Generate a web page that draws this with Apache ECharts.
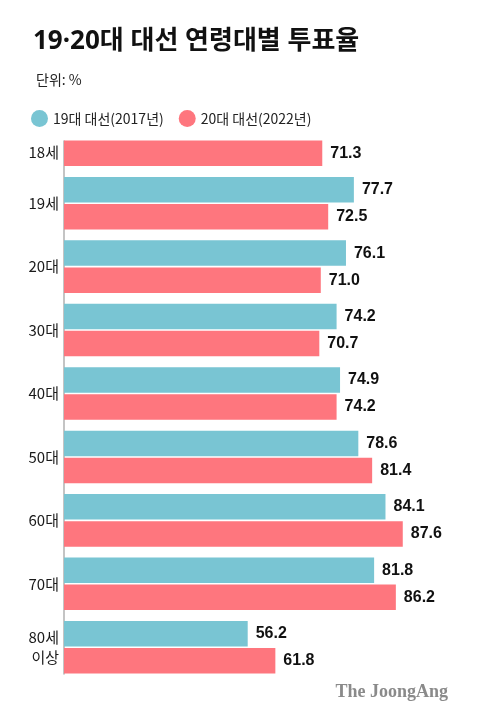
<!DOCTYPE html>
<html>
<head>
<meta charset="utf-8">
<script src="https://cdn.jsdelivr.net/npm/echarts@6/dist/echarts.min.js"></script>
<style>
html,body{margin:0;padding:0;background:#fff;}
#main{width:480px;height:728px;}
</style>
</head>
<body>
<div id="main"></div>
<script>
const categories = ['18세', '19세', '20대', '30대', '40대', '50대', '60대', '70대', '80세\n이상'];
const seriesNames = ['19대 대선(2017년)', '20대 대선(2022년)'];
const vote2017 = [null, 77.7, 76.1, 74.2, 74.9, 78.6, 84.1, 81.8, 56.2];
const vote2022 = [71.3, 72.5, 71.0, 70.7, 74.2, 81.4, 87.6, 86.2, 61.8];

const FONT = '"Noto Sans CJK KR", "Noto Sans", sans-serif';
const TITLE_FONT = '"Noto Sans", "Noto Sans CJK KR", sans-serif';
const chart = echarts.init(document.getElementById('main'), null, {renderer: 'canvas'});

const valueLabel = {
  show: true,
  position: 'right',
  distance: 8,
  color: '#111',
  fontSize: 16,
  fontWeight: 'bold',
  fontFamily: '"Liberation Sans", Arial, sans-serif',
  formatter: p => p.value == null ? '' : Number(p.value).toFixed(1)
};

chart.setOption({
  animation: false,
  backgroundColor: '#fff',
  title: [
    {
      text: '19·20대 대선 연령대별 투표율',
      left: 28, top: 24,
      textStyle: {fontFamily: TITLE_FONT, fontSize: 26, fontWeight: 'bold', color: '#111'}
    },
    {
      text: '단위: %',
      left: 31, top: 68,
      textStyle: {fontFamily: FONT, fontSize: 14, fontWeight: 'normal', color: '#222'}
    },
    {
      text: 'The JoongAng',
      right: 27, top: 678,
      textStyle: {fontFamily: '"Liberation Serif", "DejaVu Serif", serif', fontSize: 18, fontWeight: 'bold', color: '#8a8a8a'}
    }
  ],
  legend: {
    left: 26, top: 105,
    icon: 'circle',
    itemWidth: 17, itemHeight: 17,
    itemGap: 15,
    textStyle: {fontFamily: FONT, fontSize: 14, color: '#222'},
    data: seriesNames
  },
  grid: [
    {left: 64, right: 16, top: 108, bottom: 49, containLabel: false},
    {left: 64, right: 16, top: 141, bottom: 54, containLabel: false}
  ],
  xAxis: [
    {type: 'value', gridIndex: 0, min: 19, max: 100, show: false},
    {type: 'value', gridIndex: 1, min: 0, max: 1, show: false}
  ],
  yAxis: [
    {
      type: 'category', gridIndex: 0, inverse: true, data: categories,
      axisLine: {show: false}, axisTick: {show: false},
      axisLabel: {
        margin: 5,
        fontFamily: FONT, fontSize: 15, color: '#1a1a1a', lineHeight: 20,
        formatter: (v, i) => i === 0 ? '{d|' + v + '}' : v,
        rich: {d: {fontFamily: FONT, fontSize: 15, color: '#1a1a1a', padding: [26, 0, 0, 0]}}
      }
    },
    {
      type: 'category', gridIndex: 1, data: [''],
      axisLine: {show: true, lineStyle: {color: '#b0b0b0', width: 1.5}},
      axisTick: {show: false}, axisLabel: {show: false}
    }
  ],
  series: [
    {
      name: seriesNames[0], type: 'bar', xAxisIndex: 0, yAxisIndex: 0,
      data: vote2017, barWidth: 25.5, barGap: '6%',
      itemStyle: {color: '#79c5d3'},
      label: valueLabel
    },
    {
      name: seriesNames[1], type: 'bar', xAxisIndex: 0, yAxisIndex: 0,
      data: vote2022, barWidth: 25.5, barGap: '6%',
      itemStyle: {color: '#fe767e'},
      label: valueLabel
    }
  ]
});
</script>
</body>
</html>
